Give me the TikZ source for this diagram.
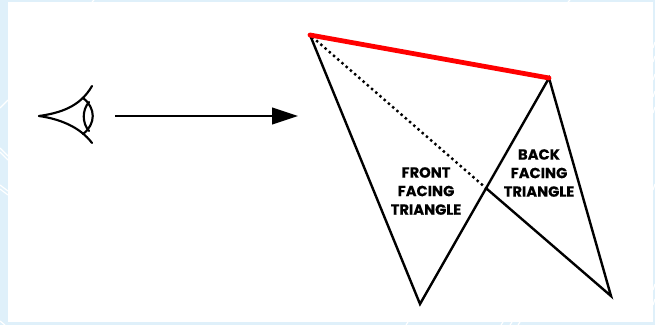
\documentclass[tikz,border=0pt]{standalone}
\usepackage{fontspec}
\setmainfont{Poppins}[BoldFont={Poppins Bold},BoldFeatures={FakeBold=0.4}]
\usetikzlibrary{arrows.meta,positioning}

\begin{document}
\begin{tikzpicture}[
  x=0.75pt, y=-0.75pt,
  font=\bfseries\fontsize{11}{13.9}\selectfont,
  >={Triangle[length=19.5pt, width=12.5pt]},
  edge/.style={draw=black, line width=1.8pt, line join=miter},
  dots/.style={draw=black, line width=1.8pt, dash pattern=on 1.8pt off 2.4pt},
  facing/.style={align=center, inner sep=0pt, text=black},
  panel/.style={fill=white, draw=none},
  backdrop/.style={fill=paleblue, draw=none},
  streak/.style={draw=white, line width=0.9pt},
  lid/.style={line width=1.6pt, line cap=round},
  arr/.style={->, line width=1.6pt}
]
\definecolor{paleblue}{HTML}{DFF0FA}
\useasboundingbox (0,0) rectangle (655,325);

%% ============ Background ============
\fill[backdrop] (0,0) rectangle (655,325);
\draw[streak] (0,108) -- (8,100);
\draw[streak] (0,148) -- (8,156);
\draw[streak] (0,152) -- (8,160);
\draw[streak] (0,185) -- (8,191);
\draw[streak] (0,189) -- (8,195);
\draw[streak] (0,321) -- (5,325);
\draw[streak] (92,2) -- (94,0);
\draw[streak] (568,2) -- (570,0);
\draw[streak] (406,325) -- (408,322);
\draw[streak] (501,325) -- (503,322);
\draw[streak] (510,325) -- (512,322);
\draw[streak] (518,325) -- (520,322);
\foreach \ypos in {48,62,80,97,113,190,290,305}
  \draw[streak] (653,\ypos) -- (655,\ypos-6);
\fill[panel] (8,2) rectangle (653,322);

%% ============ Eye ============
\coordinate (corner) at (39,116);
\coordinate (lidtop) at (92,86);
\coordinate (lidbot) at (92,143);
\coordinate (iristop) at (83,98);
\coordinate (irisbot) at (83,134);
\coordinate (innertop) at (89,102);
\coordinate (innerbot) at (89,131);
\draw[lid] (corner) .. controls (60,113) and (80,107) .. (lidtop);
\draw[lid] (corner) .. controls (60,119) and (80,127) .. (lidbot);
\draw[lid] (iristop) .. controls (96,108) and (96,124) .. (irisbot);
\draw[lid] (innertop) .. controls (82,110) and (82,123) .. (innerbot);

%% ============ View direction ============
\coordinate (viewfrom) at (115,116);
\coordinate (viewto) at (298,116);
\draw[arr] (viewfrom) -- (viewto);

%% ============ Triangles ============
\coordinate (shared) at (310,35);
\coordinate (far) at (549,78);
\coordinate (frontapex) at (420,304);
\coordinate (backapex) at (611,296);
\coordinate (cross) at (487,189);

\draw[edge] (shared) -- (frontapex) -- (far) -- (backapex) -- (cross);
\draw[dots] (cross) -- (shared);
\draw[red, line width=3.6pt, line cap=round] (shared) -- (far);

\node[facing] (fronttext) at (426,191) {FRONT\\FACING\\TRIANGLE};
\node[facing] (backtext) at (539,173) {BACK\\FACING\\TRIANGLE};

\end{tikzpicture}
\end{document}
